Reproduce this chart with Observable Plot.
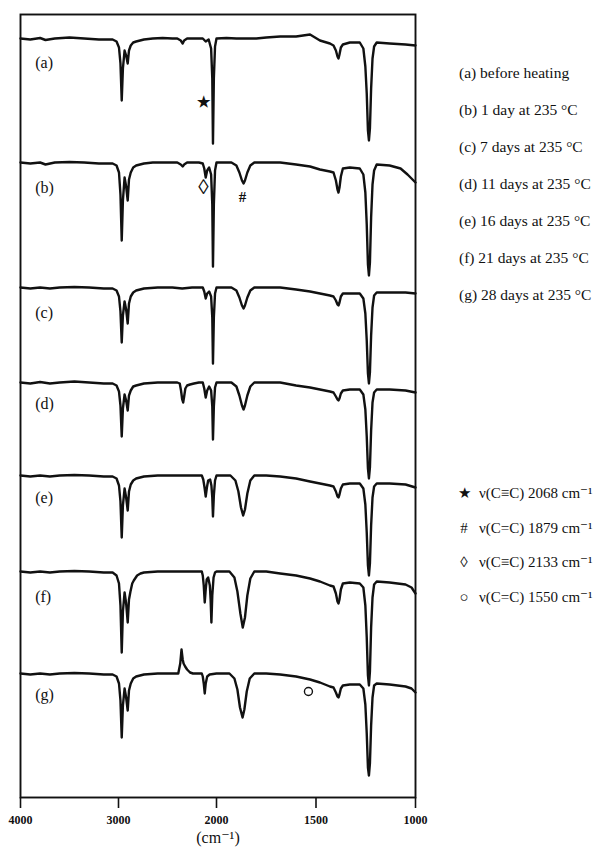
<!DOCTYPE html>
<html>
<head>
<meta charset="utf-8">
<script src="https://cdn.jsdelivr.net/npm/d3@7"></script>
<script src="https://cdn.jsdelivr.net/npm/@observablehq/plot@0.6"></script>
<style>
  html, body { margin: 0; padding: 0; background: #fff; overflow: hidden; }
  #wrap { position: relative; width: 596px; height: 850px; font-family: "Liberation Serif", "DejaVu Serif", serif; color: #111; }
  #chart { position: absolute; left: 0; top: 0; }
  .leg { position: absolute; white-space: nowrap; }
  #legend1 { font-size: 15.5px; }
  #legend1 div { height: 37px; line-height: 37px; }
  #legend2 { font-size: 15px; }
  #legend2 div { height: 34.7px; line-height: 34.7px; }
  .sym { display: inline-block; width: 20px; text-align: center; margin-right: 5px; }
</style>
</head>
<body>
<div id="wrap">
  <div id="chart"></div>
  <div id="legend1" class="leg" style="left:459px; top:54px;"></div>
  <div id="legend2" class="leg" style="left:454px; top:476px;"></div>
</div>
<script>
// Wavenumber axis ticks (cm-1)
const xTicks = [4000, 3000, 2000, 1500, 1000];

// Spectrum ids, panel labels, vertical offsets of each trace (stacked)
const seriesIds = ["a", "b", "c", "d", "e", "f", "g"];
const seriesOffsets = [759, 635, 510, 415, 322, 226, 124];
const panelLabels = ["(a)", "(b)", "(c)", "(d)", "(e)", "(f)", "(g)"];
const panelLabelY = [735, 610, 485, 394, 300, 201, 103];

// Legend texts
const seriesLegend = [
  "(a) before heating",
  "(b) 1 day at 235 °C",
  "(c) 7 days at 235 °C",
  "(d) 11 days at 235 °C",
  "(e) 16 days at 235 °C",
  "(f) 21 days at 235 °C",
  "(g) 28 days at 235 °C"
];
const bandSymbols = ["★", "#", "◊", "○"];
const bandTexts = ["ν(C≡C) 2068 cm⁻¹", "ν(C=C) 1879 cm⁻¹", "ν(C≡C) 2133 cm⁻¹", "ν(C=C) 1550 cm⁻¹"];

// Band markers placed on the spectra
const markerSymbols = ["★", "◊", "#", "○"];
const markerWn = [2133, 2133, 1869, 1538];
const markerY = [695, 610, 600, 106];

// Spectra: [wavenumber, transmittance change relative to the trace baseline]
const specA = [[4000,0],[3900,-1],[3800,0.5],[3745,-1.5],[3650,0],[3500,1],[3350,0],[3200,-1],[3100,-1],
  [3060,-1],[3020,-3],[2995,-9],[2980,-25],[2967,-62],[2955,-30],[2938,-12],[2922,-17],[2906,-25],[2893,-12],[2875,-7],[2850,-4],[2820,-3],[2780,-2],[2740,-1],[2650,0],[2550,0.5],[2450,0],[2400,0],
  [2365,-2],[2345,-5],[2330,-2],[2300,0],[2250,0],[2180,0],[2140,0],[2110,-3],[2080,-1],[2055,-10],[2043,-40],[2036,-105],[2027,-40],[2015,-8],[2000,0],[1950,0.5],[1900,0],[1800,0],[1750,1],[1680,2],[1600,2],[1530,4],[1480,-2],[1430,-5],
  [1412,-7],[1400,-12],[1392,-18],[1387,-20],[1382,-16],[1375,-9],[1365,-6],[1330,-4],[1280,-4],[1262,-10],[1252,-28],[1245,-55],[1239,-92],[1234,-102],[1229,-90],[1223,-50],[1216,-20],[1208,-8],[1195,-4],[1130,-5],[1050,-6],[1000,-7]];

const specB = [[4000,0],[3900,-1],[3800,0],[3745,-2],[3650,0],[3500,0.5],[3350,0],[3200,-1],[3100,-1],
  [3060,-1],[3020,-3],[2995,-10],[2980,-32],[2967,-78],[2955,-38],[2938,-15],[2922,-24],[2906,-38],[2893,-17],[2875,-10],[2850,-5],[2820,-3],[2780,-2],[2740,-1],[2650,0],[2550,0],[2450,0],[2400,0],
  [2365,-2],[2345,-4],[2330,-2],[2300,0],[2250,0],[2180,0],[2140,-1],[2125,-6],[2110,-15],[2095,-8],[2075,-5],[2055,-12],[2043,-42],[2036,-104],[2027,-42],[2015,-8],[2000,0],[1950,0],[1925,0],
  [1900,-3],[1885,-10],[1872,-18],[1864,-21],[1857,-18],[1845,-10],[1830,-3],[1810,0],[1750,0],[1680,0],[1600,-2],[1530,-4],[1480,-7],[1430,-9],
  [1412,-10],[1400,-18],[1392,-27],[1387,-30],[1382,-25],[1375,-14],[1365,-6],[1330,-5],[1280,-6],[1262,-12],[1252,-30],[1245,-62],[1239,-102],[1234,-113],[1229,-100],[1223,-55],[1216,-22],[1208,-8],[1195,-2],[1130,-3],[1075,-6],[1040,-12],[1000,-20]];

const specC = [[4000,0],[3900,-1],[3800,0],[3700,-1],[3600,0],[3450,0.5],[3300,0],[3150,-1],
  [3060,-1],[3020,-3],[2995,-9],[2980,-24],[2967,-55],[2955,-28],[2938,-14],[2922,-22],[2906,-36],[2893,-16],[2875,-9],[2850,-5],[2820,-3],[2780,-2],[2740,-1],[2600,0],[2450,0],[2350,-1],[2250,0],
  [2140,0],[2125,-4],[2110,-11],[2095,-6],[2075,-4],[2055,-9],[2043,-30],[2036,-76],[2027,-30],[2015,-6],[2000,0],[1925,0],
  [1900,-3],[1885,-10],[1872,-18],[1864,-21],[1857,-18],[1845,-10],[1830,-3],[1810,0],[1750,0],[1680,0],[1600,-2],[1530,-4],[1480,-6],[1430,-8],
  [1412,-9],[1400,-13],[1392,-17],[1387,-18],[1382,-15],[1375,-9],[1365,-6],[1330,-6],[1280,-6],[1262,-11],[1252,-26],[1245,-53],[1239,-86],[1234,-96],[1229,-85],[1223,-48],[1216,-20],[1208,-8],[1195,-5],[1130,-5],[1050,-5],[1000,-6]];

const specD = [[4000,0],[3900,-1],[3800,0.5],[3700,-1],[3600,0],[3450,1],[3300,0],[3150,-1],
  [3060,-1],[3020,-3],[2995,-9],[2980,-23],[2967,-54],[2955,-26],[2938,-12],[2922,-18],[2906,-28],[2893,-13],[2875,-8],[2850,-4],[2820,-3],[2780,-2],[2740,-1],[2600,0],[2450,0],[2400,0],
  [2375,-1],[2362,-8],[2350,-17],[2340,-20],[2330,-14],[2318,-6],[2300,-3],[2270,-2],[2230,-1],[2180,0],
  [2140,0],[2125,-6],[2110,-15],[2095,-8],[2075,-4],[2055,-8],[2043,-24],[2036,-57],[2027,-24],[2015,-5],[2000,0],[1925,0],
  [1900,-4],[1885,-13],[1872,-23],[1864,-27],[1857,-23],[1845,-13],[1830,-4],[1810,0],[1750,0],[1680,0],[1600,-3],[1530,-5],[1480,-7],[1430,-9],
  [1412,-10],[1400,-14],[1392,-17],[1387,-18],[1382,-16],[1375,-11],[1365,-8],[1330,-7],[1280,-7],[1262,-12],[1252,-27],[1245,-54],[1239,-86],[1234,-96],[1229,-85],[1223,-48],[1216,-20],[1208,-10],[1195,-7],[1130,-7],[1050,-8],[1000,-10]];

const specE = [[4000,0],[3900,-1],[3800,0],[3700,-1],[3600,0],[3450,0.5],[3300,0],[3150,-1],
  [3060,-1],[3020,-3],[2995,-10],[2980,-26],[2967,-62],[2955,-30],[2938,-13],[2922,-22],[2906,-35],[2893,-16],[2875,-9],[2850,-5],[2820,-3],[2780,-2],[2740,-1],[2600,0],[2450,0],[2350,0],[2250,0],
  [2150,0],[2135,-4],[2122,-12],[2110,-21],[2098,-12],[2085,-5],[2065,-4],[2052,-10],[2043,-22],[2036,-41],[2027,-20],[2015,-5],[2000,0],[1930,0],
  [1905,-5],[1890,-16],[1877,-32],[1866,-40],[1857,-34],[1845,-18],[1830,-5],[1810,0],[1750,0],[1680,-1],[1600,-3],[1530,-6],[1480,-8],[1430,-10],
  [1412,-11],[1400,-16],[1392,-21],[1387,-22],[1382,-19],[1375,-13],[1365,-9],[1330,-8],[1280,-8],[1262,-13],[1252,-29],[1245,-57],[1239,-90],[1234,-100],[1229,-88],[1223,-50],[1216,-22],[1208,-11],[1195,-8],[1130,-8],[1050,-9],[1000,-12]];

const specF = [[4000,0],[3900,-1],[3800,0],[3700,-1],[3600,0],[3450,0.5],[3300,0],[3150,-1],
  [3060,-1],[3020,-4],[2995,-12],[2980,-34],[2967,-81],[2955,-40],[2938,-21],[2922,-32],[2906,-51],[2893,-28],[2878,-20],[2860,-12],[2844,-9],[2810,-4],[2776,-2],[2740,-1],[2600,0],[2450,0],[2350,0],[2250,0],
  [2150,0],[2140,-4],[2130,-14],[2120,-31],[2110,-18],[2100,-8],[2085,-6],[2068,-14],[2060,-28],[2052,-51],[2043,-24],[2030,-6],[2015,-1],[2000,0],[1935,0],
  [1910,-6],[1895,-20],[1880,-42],[1868,-56],[1857,-46],[1845,-24],[1830,-7],[1810,0],[1750,0],[1680,-2],[1600,-4],[1530,-7],[1480,-10],[1430,-14],
  [1412,-15],[1400,-22],[1392,-30],[1387,-32],[1382,-28],[1375,-18],[1365,-12],[1330,-11],[1280,-12],[1262,-16],[1252,-34],[1245,-66],[1239,-104],[1234,-114],[1229,-100],[1223,-56],[1216,-26],[1208,-13],[1195,-10],[1130,-11],[1050,-13],[1020,-16],[1000,-22]];

const specG = [[4000,0],[3900,-1],[3800,0],[3700,-1],[3600,0],[3450,0.5],[3300,0],[3150,-1],
  [3060,-1],[3020,-3],[2995,-10],[2980,-27],[2967,-64],[2955,-32],[2938,-15],[2922,-24],[2906,-37],[2893,-17],[2875,-10],[2850,-5],[2820,-3],[2780,-2],[2740,-1],[2600,0],[2450,0],[2400,0],
  [2390,0],[2370,10],[2357,24],[2345,14],[2336,10],[2320,7],[2300,4],[2270,1],[2240,0],
  [2150,0],[2140,-3],[2130,-10],[2120,-20],[2110,-10],[2095,-3],[2070,-1],[2000,0],[1935,0],
  [1910,-5],[1895,-16],[1882,-34],[1869,-44],[1860,-36],[1848,-18],[1833,-5],[1810,0],[1750,0],[1680,-1],[1600,-3],[1530,-6],[1480,-9],[1430,-13],
  [1412,-14],[1400,-19],[1392,-23],[1387,-24],[1382,-21],[1375,-15],[1365,-12],[1330,-11],[1280,-11],[1262,-15],[1252,-31],[1245,-60],[1239,-94],[1234,-102],[1229,-90],[1223,-52],[1216,-24],[1208,-12],[1195,-10],[1130,-11],[1050,-13],[1020,-15],[1000,-19]];

const spectraList = [specA, specB, specC, specD, specE, specF, specG];

// Build a tidy table for Plot
const rows = [];
spectraList.forEach((spec, i) => {
  spec.forEach(([wn, dt]) => rows.push({s: seriesIds[i], wn, t: seriesOffsets[i] + dt}));
});
const labelRows = panelLabels.map((l, i) => ({label: l, y: panelLabelY[i]}));
const markerRows = markerSymbols.map((m, i) => ({m, wn: markerWn[i], y: markerY[i]}));

const ink = "#111";
const chart = Plot.plot({
  width: 430,
  height: 850,
  marginLeft: 20,
  marginRight: 15,
  marginTop: 14,
  marginBottom: 53,
  style: {fontFamily: "'Liberation Serif', 'DejaVu Serif', serif", fontSize: "12px", color: ink, background: "#fff"},
  x: {type: "linear", domain: [4000, 2000, 1000], range: [20, 216, 415], label: null},
  y: {type: "linear", domain: [0, 783], axis: null},
  marks: [
    Plot.axisX({ticks: xTicks, tickFormat: "d", tickSize: 11, tickPadding: 7, fontSize: 12, fontWeight: "bold", label: null, stroke: ink, strokeWidth: 1.6}),
    Plot.frame({stroke: ink, strokeWidth: 1.9}),
    Plot.line(rows, {x: "wn", y: "t", z: "s", stroke: ink, strokeWidth: 2.4, strokeLinejoin: "round", strokeLinecap: "round"}),
    Plot.text(labelRows, {x: 3850, y: "y", text: "label", textAnchor: "start", fontSize: 16, fill: ink}),
    Plot.text(markerRows, {filter: d => d.m === "★" || d.m === "#", x: "wn", y: "y", text: "m", fontSize: 15, fontWeight: "bold", fill: ink}),
    Plot.text(markerRows, {filter: d => d.m === "◊", x: "wn", y: "y", text: "m", fontSize: 21, fill: ink}),
    Plot.dot(markerRows, {filter: d => d.m === "○", x: "wn", y: "y", r: 4, stroke: ink, strokeWidth: 1.4, fill: "none"}),
    Plot.text(["(cm⁻¹)"], {frameAnchor: "bottom", dy: 45, fontSize: 16, fill: ink})
  ]
});
document.getElementById("chart").appendChild(chart);

// Legends (HTML, right of the plot frame)
const l1 = document.getElementById("legend1");
seriesLegend.forEach(t => { const d = document.createElement("div"); d.textContent = t; l1.appendChild(d); });
const l2 = document.getElementById("legend2");
bandSymbols.forEach((s, i) => {
  const d = document.createElement("div");
  const sp = document.createElement("span"); sp.className = "sym"; sp.textContent = s;
  d.appendChild(sp); d.appendChild(document.createTextNode(bandTexts[i]));
  l2.appendChild(d);
});
</script>
</body>
</html>
